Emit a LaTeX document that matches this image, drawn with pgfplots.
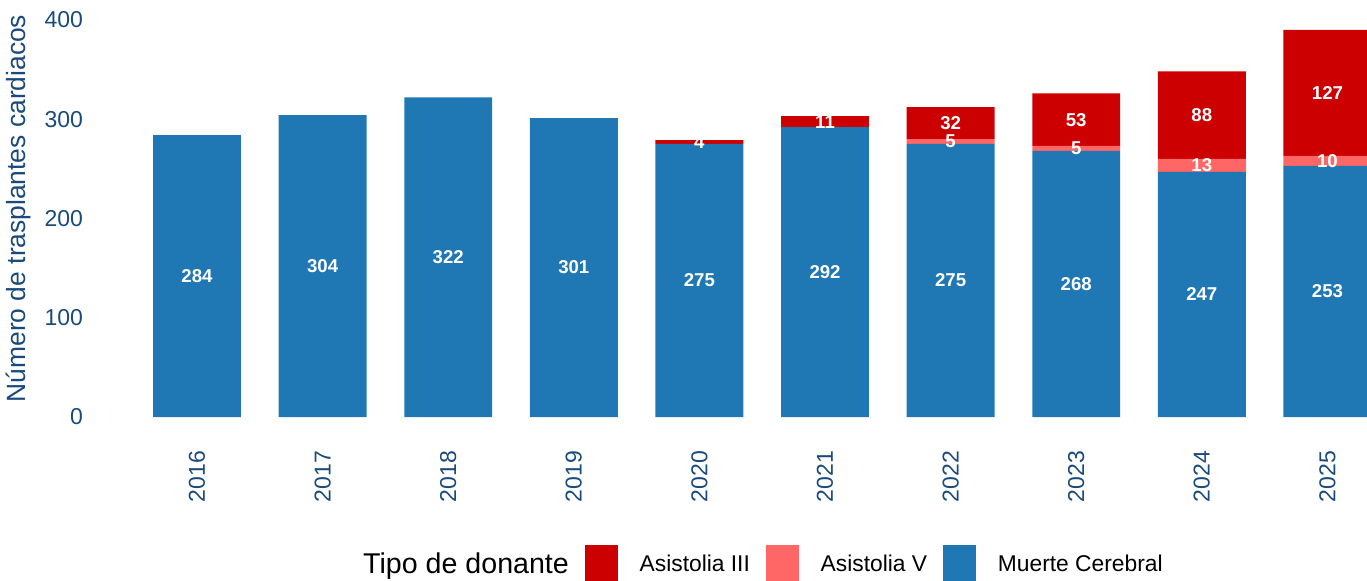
\documentclass[border=0pt]{standalone}
\usepackage{fontspec}
\setmainfont{Liberation Sans}
\usepackage{pgfplots}
\usepackage{pgfplotstable}
\pgfplotsset{compat=1.18}
\definecolor{mcblue}{HTML}{1F78B4}
\definecolor{aiii}{HTML}{CC0000}
\definecolor{av}{HTML}{FF6666}
\definecolor{axtext}{HTML}{1A4A7C}
\pgfplotstableread{
x mc av aiii
0 284 0 0
1 304 0 0
2 322 0 0
3 301 0 0
4 275 0 4
5 292 0 11
6 275 5 32
7 268 5 53
8 247 13 88
9 253 10 127
}\data
\begin{document}
\begin{tikzpicture}
\begin{axis}[
  scale only axis, width=638.5pt, height=208.5pt,
  ybar stacked, bar width=0.7,
  xmin=-0.852, xmax=9.315, ymin=0, ymax=420,
  ytick={0,100,200,300,400},
  xtick={0,...,9},
  xticklabels={2016,2017,2018,2019,2020,2021,2022,2023,2024,2025},
  axis line style={draw=none},
  major tick length=0pt,
  tick style={draw=none},
  ticklabel style={font=\fontsize{11.5}{13}\selectfont, text=axtext},
  /pgf/number format/assume math mode=true,
  xticklabel style={rotate=90, anchor=east},
  xticklabel shift=13.5pt,
  ylabel={Número de trasplantes cardiacos},
  ylabel style={font=\fontsize{13.2}{15}\selectfont, text=axtext},
  legend columns=-1,
  legend style={draw=none, fill=none, at={(0.527,-0.35)}, anchor=center,
    font=\fontsize{11.4}{13}\selectfont,
    /tikz/every even column/.append style={column sep=6pt}},
  lbl/.style={
    point meta=explicit,
    nodes near coords={\pgfmathfloatifflags{\pgfplotspointmeta}{0}{}{\pgfmathprintnumber{\pgfplotspointmeta}}},
    every node near coord/.style={font=\bfseries\fontsize{9.3}{11}\selectfont, text=white, anchor=center, inner sep=0pt}
  },
]
\addlegendimage{legend image code/.code={}}
\addlegendentry{\fontsize{14.3}{16}\selectfont Tipo de donante}
\addlegendimage{legend image code/.code={\fill[aiii] (0pt,-8pt) rectangle (16pt,9.5pt); \path (25pt,0pt);}}
\addlegendentry{Asistolia III}
\addlegendimage{legend image code/.code={\fill[av] (0pt,-8pt) rectangle (16pt,9.5pt); \path (25pt,0pt);}}
\addlegendentry{Asistolia V}
\addlegendimage{legend image code/.code={\fill[mcblue] (0pt,-8pt) rectangle (16pt,9.5pt); \path (25pt,0pt);}}
\addlegendentry{Muerte Cerebral}

\addplot[fill=mcblue, draw=none, lbl] table[x=x, y=mc, meta=mc] {\data};
\addplot[fill=av, draw=none, lbl] table[x=x, y=av, meta=av] {\data};
\addplot[fill=aiii, draw=none, lbl] table[x=x, y=aiii, meta=aiii] {\data};
\end{axis}
\pgfresetboundingbox
\path[use as bounding box] (-45pt,-81.5pt) rectangle (638.5pt,208.5pt);
\end{tikzpicture}
\end{document}
